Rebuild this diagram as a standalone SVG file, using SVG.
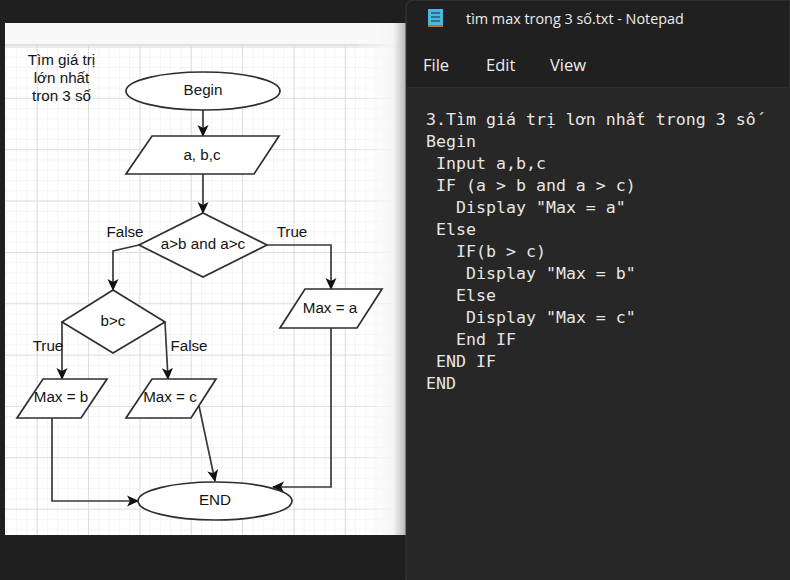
<svg xmlns="http://www.w3.org/2000/svg" width="790" height="580" viewBox="0 0 790 580">
<style>
.s{fill:#fff;stroke:#2e2e2e;stroke-width:1.7}
.c{fill:none;stroke:#3a3a3a;stroke-width:1.7;marker-end:url(#a)}
.t{font-family:"Liberation Sans",Arial,sans-serif;font-size:15.2px;fill:#141414;text-anchor:middle}
.m{font-family:"DejaVu Sans Mono","Liberation Mono",monospace;font-size:16.6px;fill:#e6e6e6;white-space:pre}
.u{font-family:"Open Sans","Noto Sans",sans-serif;fill:#ececec}
</style>
<defs>
<marker id="a" viewBox="0 0 12 12" refX="11" refY="6" markerWidth="12" markerHeight="12" markerUnits="userSpaceOnUse" orient="auto"><path d="M0,0.5L12,6L0,11.5L3,6Z" fill="#111"/></marker>
<pattern id="g1" x="36.7" y="46.5" width="10.27" height="10.27" patternUnits="userSpaceOnUse"><path d="M10.27,0H0V10.27" fill="none" stroke="#ebebeb" stroke-width="1"/></pattern>
<pattern id="g2" x="36.7" y="46.5" width="51.35" height="51.35" patternUnits="userSpaceOnUse"><path d="M51.35,0H0V51.35" fill="none" stroke="#d6d6d6" stroke-width="1.5"/></pattern>
<linearGradient id="f" x1="0" x2="1"><stop offset="0" stop-color="#fff" stop-opacity="0"/><stop offset="0.75" stop-color="#f4f4f4" stop-opacity=".9"/><stop offset="1" stop-color="#b5b5b5"/></linearGradient>
</defs>
<rect width="790" height="580" fill="#1f1f1f"/>
<rect x="5" y="23" width="401" height="512" fill="#fff"/>
<rect x="5" y="23" width="401" height="22" fill="#f8f9fa"/>
<rect x="5" y="44" width="401" height="2" fill="#e2e2e2"/>
<rect x="5" y="46" width="401" height="489" fill="url(#g1)"/>
<rect x="5" y="46" width="401" height="489" fill="url(#g2)"/>
<rect x="355" y="23" width="51" height="512" fill="url(#f)"/>
<g id="connectors">
<path class="c" d="M203,110V136"/>
<path class="c" d="M203,174V213"/>
<path class="c" d="M139,245L113,251V290"/>
<path class="c" d="M267,245H331V289"/>
<path class="c" d="M62,322V379"/>
<path class="c" d="M165,322L168,379"/>
<path class="c" d="M52,418V501H138"/>
<path class="c" d="M199,406L215,481"/>
<path class="c" d="M331,328V487H273"/>
</g>
<g id="title"><text class="t" x="61.500" y="65">Tìm giá trị</text><text class="t" x="61.500" y="83">lớn nhất</text><text class="t" x="61.500" y="101">tron 3 số</text></g>
<g id="begin"><ellipse class="s" cx="203" cy="91" rx="77" ry="19"/><text class="t" x="203" y="95">Begin</text></g>
<g id="input"><path class="s" d="M152,136H279L254,174H126Z"/><text class="t" x="202" y="160">a, b,c</text></g>
<g id="cond1"><path class="s" d="M203,213L267,245L203,277L139,245Z"/><text class="t" x="203" y="249">a&gt;b and a&gt;c</text></g>
<g id="cond2"><path class="s" d="M113,290L165,322L113,353L62,322Z"/><text class="t" x="113" y="326">b&gt;c</text></g>
<g id="maxa"><path class="s" d="M305,289H382L357,328H280Z"/><text class="t" x="330" y="313">Max = a</text></g>
<g id="maxb"><path class="s" d="M43,379H107L81,418H17Z"/><text class="t" x="61" y="402">Max = b</text></g>
<g id="maxc"><path class="s" d="M152,379H216L191,418H126Z"/><text class="t" x="170" y="402">Max = c</text></g>
<g id="end"><ellipse class="s" cx="215" cy="501" rx="77" ry="19"/><text class="t" x="215" y="505">END</text></g>
<g id="labels"><text class="t" x="125" y="237">False</text><text class="t" x="292" y="237">True</text><text class="t" x="48" y="351">True</text><text class="t" x="189" y="351">False</text></g>
<g id="notepad">
<path d="M406,580V8Q406,0 414,0H790V580Z" fill="#202020" stroke="#3a3a3a"/>
<rect x="407" y="88" width="383" height="492" fill="#272727"/>
<rect x="407" y="87" width="383" height="1" fill="#2e2e2e"/>
<rect x="428" y="9" width="15" height="17" fill="#4fb6dc"/><rect x="428" y="25" width="15" height="2" fill="#b5702e"/>
<path d="M431,13H440M431,17H440M431,21H440" stroke="#17607f" stroke-width="1.6"/>
<text class="u" x="466" y="24" font-size="14.4">tìm max trong 3 số.txt - Notepad</text>
<text class="u" x="423" y="71" font-size="16.500">File</text><text class="u" x="486" y="71" font-size="16.500">Edit</text><text class="u" x="550" y="71" font-size="16.500">View</text>
<text class="m" x="426" y="125">3.Tìm giá trị lơn nhất trong 3 số</text>
<text class="m" x="426" y="147">Begin</text>
<text class="m" x="436" y="169">Input a,b,c</text>
<text class="m" x="436" y="191">IF (a &gt; b and a &gt; c)</text>
<text class="m" x="456" y="213">Display "Max = a"</text>
<text class="m" x="436" y="235">Else</text>
<text class="m" x="456" y="257">IF(b &gt; c)</text>
<text class="m" x="466" y="279">Display "Max = b"</text>
<text class="m" x="456" y="301">Else</text>
<text class="m" x="466" y="323">Display "Max = c"</text>
<text class="m" x="456" y="345">End IF</text>
<text class="m" x="436" y="367">END IF</text>
<text class="m" x="426" y="389">END</text>
</g>
</svg>
